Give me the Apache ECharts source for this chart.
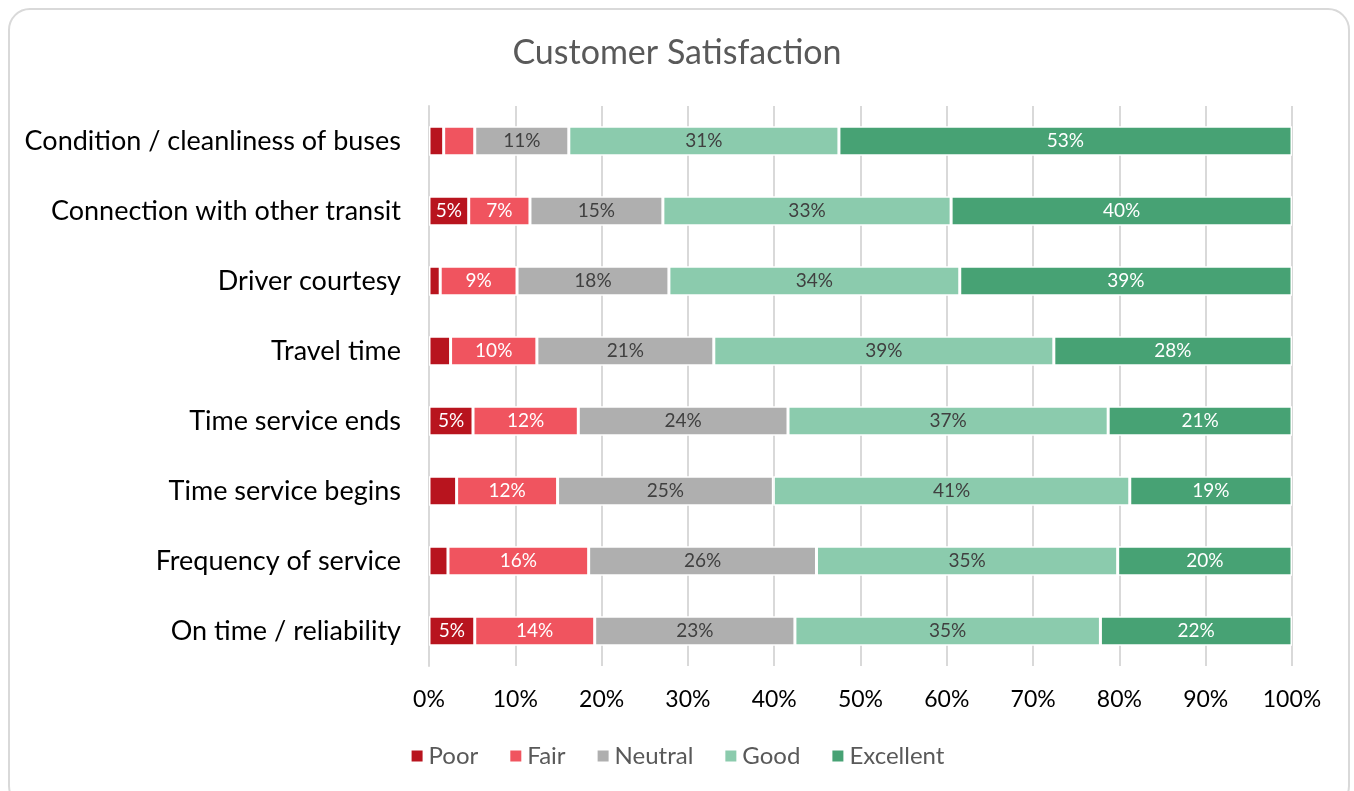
<!DOCTYPE html>
<html><head><meta charset="utf-8">
<script src="https://cdn.jsdelivr.net/npm/echarts@6/dist/echarts.min.js"></script>
<style>
html,body{margin:0;padding:0;background:#fff;}
#frame{position:absolute;left:8px;top:8px;width:1342px;height:800px;border:2px solid #d9d9d9;border-radius:22px;box-sizing:border-box;}
#chart{position:absolute;left:0;top:0;width:1354px;height:791px;}
</style></head>
<body>
<div id="frame"></div>
<div id="chart"></div>
<script>
const categories = ["On time / reliability","Frequency of service","Time service begins","Time service ends","Travel time","Driver courtesy","Connection with other transit","Condition / cleanliness of buses"];
const seriesNames = ["Poor","Fair","Neutral","Good","Excellent"];
const poor      = [5.3, 2.2, 3.2, 5.1, 2.5, 1.3, 4.6, 1.7];
const fair      = [13.9, 16.3, 11.7, 12.2, 10.0, 8.9, 7.1, 3.6];
const neutral   = [23.2, 26.4, 25.0, 24.3, 20.5, 17.6, 15.4, 10.9];
const good      = [35.4, 34.9, 41.3, 37.1, 39.4, 33.7, 33.4, 31.3];
const excellent = [22.2, 20.2, 18.8, 21.3, 27.6, 38.5, 39.5, 52.5];
const colors = ["#B8141E","#F0545F","#AFAFAF","#8BCBAD","#47A274"];
const labelColors = ["#ffffff","#ffffff","#404040","#404040","#ffffff"];
const values = [poor, fair, neutral, good, excellent];
const FONT = "Lato, 'Open Sans', sans-serif";

const chart = echarts.init(document.getElementById('chart'), null, {renderer:'canvas'});
chart.setOption({
  animation:false,
  title:{text:"Customer Satisfaction",left:'center',top:31,textStyle:{fontFamily:FONT,fontSize:34,fontWeight:'normal',color:'#595959'}},
  legend:{bottom:18,left:'center',itemWidth:13,itemHeight:13,itemGap:30,icon:'rect',
    textStyle:{fontFamily:FONT,fontSize:24,color:'#595959'},data:seriesNames},
  grid:{left:429,right:62,top:106,bottom:125,containLabel:false},
  xAxis:{type:'value',min:0,max:100,interval:10,
    axisLabel:{formatter:'{value}%',fontFamily:FONT,fontSize:23,color:'#000',margin:22},
    axisLine:{show:false},axisTick:{show:false},
    splitLine:{lineStyle:{color:'#d9d9d9',width:2}}},
  yAxis:{type:'category',data:categories,
    axisLabel:{fontFamily:FONT,fontSize:27,color:'#000',margin:28},
    axisLine:{show:true,lineStyle:{color:'#d9d9d9',width:2}},axisTick:{show:false}},
  series: seriesNames.map((name,i)=>({
    name:name,type:'bar',stack:'total',barWidth:'42%',
    data:values[i],
    itemStyle:{color:colors[i],borderColor:'#fff',borderWidth:1.5},
    label:{show:true,position:'inside',fontFamily:FONT,fontSize:19,color:labelColors[i],
      formatter:p=>p.value>=4.5?Math.round(p.value)+'%':''}
  }))
});
</script>
</body></html>
